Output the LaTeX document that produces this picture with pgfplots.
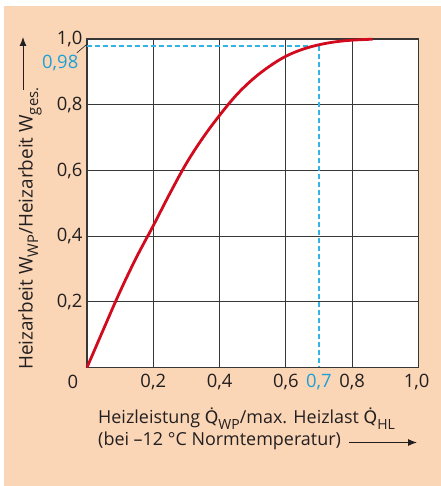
\documentclass[border=0pt]{standalone}
\usepackage{pgfplots}
\pgfplotsset{compat=1.18}
\usepackage{fontspec}
\setmainfont{Open Sans}
\newfontfamily\dejavu{DejaVu Sans}
\usetikzlibrary{arrows.meta}
\definecolor{peach}{RGB}{250,214,182}
\definecolor{curvered}{RGB}{210,10,30}
\definecolor{dashcyan}{RGB}{55,178,228}
\definecolor{cyanlbl}{RGB}{30,160,215}
\definecolor{gridc}{RGB}{55,55,55}
\definecolor{txt}{RGB}{35,31,32}
\newcommand\tickfont{\fontsize{18.5}{21}\selectfont}
\newcommand\lblfont{\fontsize{18}{21}\selectfont}
\newcommand\ylblfont{\fontsize{19}{22}\selectfont}
\newcommand\sub[1]{\raisebox{-0.3em}{\fontsize{0.78em}{1em}\selectfont #1}}
\newcommand\Qd{{\dejavu\fontsize{0.96em}{1em}\selectfont Q^^^^0307}}
\begin{document}
\begin{tikzpicture}[x=1bp,y=1bp]
\fill[white] (0,0) rectangle (441,486);
\fill[peach] (4,0) rectangle (441,480);
\begin{axis}[
  at={(87.0bp,118.5bp)}, anchor=south west,
  scale only axis, width=331.4bp, height=328.3bp,
  xmin=0, xmax=1, ymin=0, ymax=1,
  xtick={0.2,0.4,0.6,0.8,1.0},
  xticklabels={{0,2},{0,4},{0,6},{0,8},{\hbox to 0pt{\hss 1,0\hspace{-11bp}}}},
  ytick={0.2,0.4,0.6,0.8,1.0},
  yticklabels={{0,2},{0,4},{0,6},{0,8},{1,0}},
  extra x ticks={0.7},
  extra x tick labels={\textcolor{cyanlbl}{0,7}},
  extra x tick style={grid=none, major tick length=0pt},
  major tick length=0pt,
  grid=major,
  grid style={gridc, line width=1bp},
  axis line style={gridc, line width=1.4bp},
  axis background/.style={fill=white},
  tick label style={font=\tickfont, text=txt},
  xticklabel style={yshift=-3bp},
  yticklabel style={xshift=-1bp},
  clip=false,
]
\addplot[draw=dashcyan, line width=2bp, dash pattern=on 5bp off 3bp]
  coordinates {(0,0.98) (0.7,0.98) (0.7,0)};
\addplot[curvered, line width=2.8bp, smooth, tension=0.6] coordinates {
  (0,0) (0.05,0.117) (0.1,0.232) (0.15,0.337) (0.2,0.432) (0.25,0.530)
  (0.3,0.622) (0.35,0.700) (0.4,0.768) (0.45,0.829) (0.5,0.878)
  (0.55,0.917) (0.6,0.948) (0.65,0.969) (0.7,0.983) (0.75,0.992)
  (0.8,0.997) (0.862,1.0)};
\draw[txt, line width=0.6bp] (axis cs:-0.031,0.958) -- (axis cs:0,0.985);
\node[anchor=east, text=cyanlbl, font=\tickfont, inner sep=0pt] at (axis cs:0,0.98) [xshift=-8.5bp, yshift=-17bp] {0,98};
\end{axis}
\node[font=\tickfont, text=txt, inner sep=0pt] at (73,104) {0};
\node[anchor=base west, inner sep=0pt, font=\lblfont, text=txt] at (98,62)
  {Heizleistung \Qd\sub{WP}/max. Heizlast \Qd\sub{HL}};
\node[anchor=base west, inner sep=0pt, font=\lblfont, text=txt] at (98,40)
  {(bei –12~°C Normtemperatur)};
\draw[txt, line width=1bp, -{Latex[length=9bp,width=7bp]}] (349,43.5) -- (417,43.5);
\node[rotate=90, anchor=base west, inner sep=0pt, font=\ylblfont, text=txt] at (32.5,116)
  {Heizarbeit W\sub{WP}/Heizarbeit W\sub{ges.}};
\draw[txt, line width=1bp, -{Latex[length=9bp,width=7bp]}] (23,396) -- (23,449);
\end{tikzpicture}
\end{document}
